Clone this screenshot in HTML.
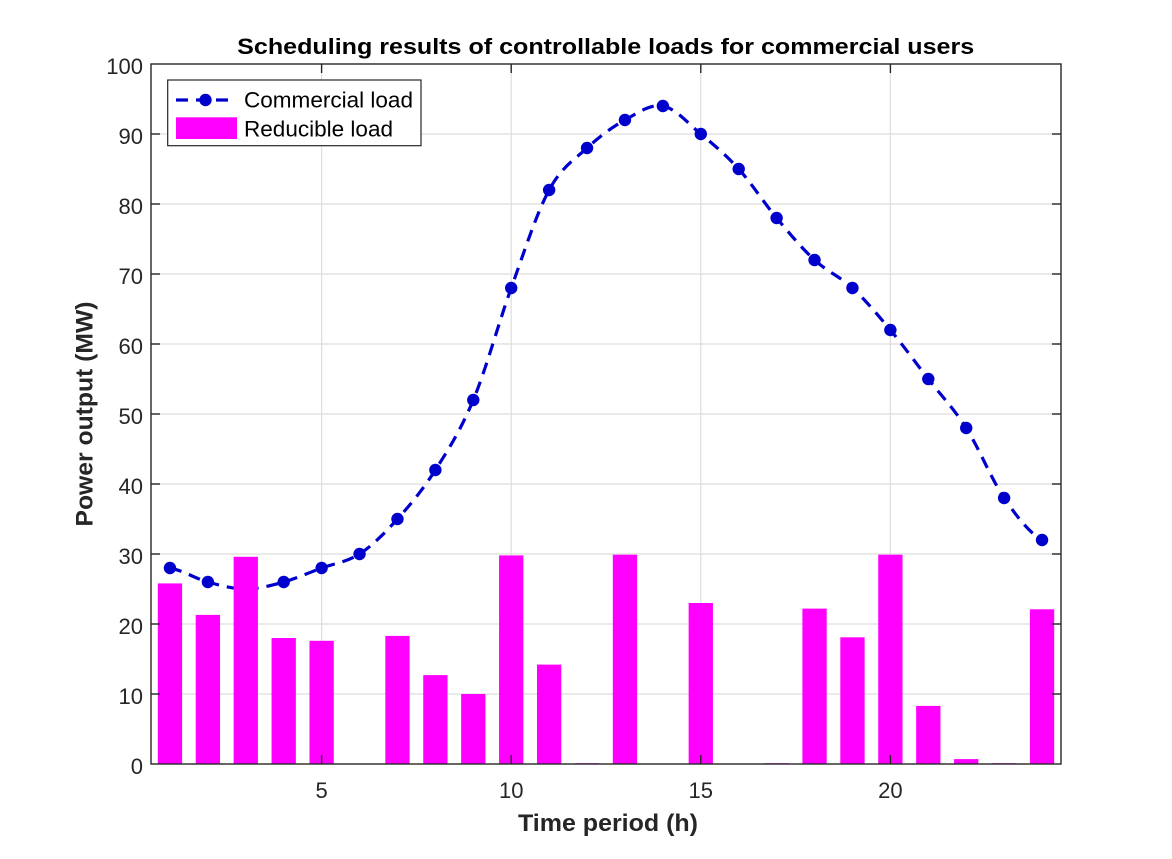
<!DOCTYPE html>
<html>
<head>
<meta charset="utf-8">
<style>
html,body{margin:0;padding:0;background:#fff;}
svg{display:block;}
text{font-family:"Liberation Sans",Arial,sans-serif;fill:#262626;}
</style>
</head>
<body>
<svg width="1172" height="859" viewBox="0 0 1172 859" xmlns="http://www.w3.org/2000/svg">
<rect x="0" y="0" width="1172" height="859" fill="#fff"/>
<rect x="151" y="64" width="910" height="700" fill="#fff"/>
<g stroke="#dedede" stroke-width="1.2">
<line x1="151" y1="134" x2="1061" y2="134"/>
<line x1="151" y1="204" x2="1061" y2="204"/>
<line x1="151" y1="274" x2="1061" y2="274"/>
<line x1="151" y1="344" x2="1061" y2="344"/>
<line x1="151" y1="414" x2="1061" y2="414"/>
<line x1="151" y1="484" x2="1061" y2="484"/>
<line x1="151" y1="554" x2="1061" y2="554"/>
<line x1="151" y1="624" x2="1061" y2="624"/>
<line x1="151" y1="694" x2="1061" y2="694"/>
<line x1="321.6" y1="64" x2="321.6" y2="764"/>
<line x1="511.2" y1="64" x2="511.2" y2="764"/>
<line x1="700.8" y1="64" x2="700.8" y2="764"/>
<line x1="890.4" y1="64" x2="890.4" y2="764"/>
</g>
<path d="M169.96,568 C182.6,570.33 195.24,578.5 207.875,582 C220.52,585.5 233.15,589 245.79,589 C258.43,589 271.07,585.5 283.71,582 C296.35,578.5 308.99,572.67 321.625,568 C334.27,563.33 346.9,562.17 359.54,554 C372.18,545.83 384.82,533 397.46,519 C410.1,505 422.74,489.83 435.375,470 C448.02,450.17 460.65,430.33 473.29,400 C485.93,369.67 498.57,323 511.21,288 C523.85,253 536.49,213.33 549.125,190 C561.77,166.67 574.4,159.67 587.04,148 C599.68,136.33 612.32,127 624.96,120 C637.6,113 650.24,103.67 662.875,106 C675.52,108.33 688.15,123.5 700.79,134 C713.43,144.5 726.07,155 738.71,169 C751.35,183 763.99,202.83 776.625,218 C789.27,233.17 801.9,248.33 814.54,260 C827.18,271.67 839.82,276.33 852.46,288 C865.1,299.67 877.74,314.83 890.375,330 C903.02,345.17 915.65,362.67 928.29,379 C940.93,395.33 953.57,408.17 966.21,428 C978.85,447.83 991.49,479.33 1004.125,498 C1016.77,516.67 1029.4,533 1042.04,540" fill="none" stroke="#0000cd" stroke-width="3.2" stroke-dasharray="12 8"/>
<g fill="#0000cd">
<circle cx="169.96" cy="568" r="6.2"/>
<circle cx="207.875" cy="582" r="6.2"/>
<circle cx="245.79" cy="589" r="6.2"/>
<circle cx="283.71" cy="582" r="6.2"/>
<circle cx="321.625" cy="568" r="6.2"/>
<circle cx="359.54" cy="554" r="6.2"/>
<circle cx="397.46" cy="519" r="6.2"/>
<circle cx="435.375" cy="470" r="6.2"/>
<circle cx="473.29" cy="400" r="6.2"/>
<circle cx="511.21" cy="288" r="6.2"/>
<circle cx="549.125" cy="190" r="6.2"/>
<circle cx="587.04" cy="148" r="6.2"/>
<circle cx="624.96" cy="120" r="6.2"/>
<circle cx="662.875" cy="106" r="6.2"/>
<circle cx="700.79" cy="134" r="6.2"/>
<circle cx="738.71" cy="169" r="6.2"/>
<circle cx="776.625" cy="218" r="6.2"/>
<circle cx="814.54" cy="260" r="6.2"/>
<circle cx="852.46" cy="288" r="6.2"/>
<circle cx="890.375" cy="330" r="6.2"/>
<circle cx="928.29" cy="379" r="6.2"/>
<circle cx="966.21" cy="428" r="6.2"/>
<circle cx="1004.125" cy="498" r="6.2"/>
<circle cx="1042.04" cy="540" r="6.2"/>
</g>
<g fill="#ff00ff">
<rect x="157.81" y="583.4" width="24.3" height="180.6"/>
<rect x="195.73" y="614.9" width="24.3" height="149.1"/>
<rect x="233.64" y="556.8" width="24.3" height="207.2"/>
<rect x="271.56" y="638" width="24.3" height="126"/>
<rect x="309.48" y="640.8" width="24.3" height="123.2"/>
<rect x="385.31" y="635.9" width="24.3" height="128.1"/>
<rect x="423.23" y="675.1" width="24.3" height="88.9"/>
<rect x="461.14" y="694" width="24.3" height="70"/>
<rect x="499.06" y="555.4" width="24.3" height="208.6"/>
<rect x="536.98" y="664.6" width="24.3" height="99.4"/>
<rect x="574.89" y="763.2" width="24.3" height="0.8"/>
<rect x="612.81" y="554.7" width="24.3" height="209.3"/>
<rect x="688.64" y="603" width="24.3" height="161"/>
<rect x="764.48" y="763.2" width="24.3" height="0.8"/>
<rect x="802.39" y="608.6" width="24.3" height="155.4"/>
<rect x="840.31" y="637.3" width="24.3" height="126.7"/>
<rect x="878.23" y="554.7" width="24.3" height="209.3"/>
<rect x="916.14" y="705.9" width="24.3" height="58.1"/>
<rect x="954.06" y="759.1" width="24.3" height="4.9"/>
<rect x="991.98" y="763.2" width="24.3" height="0.8"/>
<rect x="1029.89" y="609.3" width="24.3" height="154.7"/>
</g>
<rect x="151" y="64" width="910" height="700" fill="none" stroke="#262626" stroke-width="1.4"/>
<g stroke="#262626" stroke-width="1.4">
<line x1="151" y1="134" x2="160" y2="134"/><line x1="1061" y1="134" x2="1052" y2="134"/>
<line x1="151" y1="204" x2="160" y2="204"/><line x1="1061" y1="204" x2="1052" y2="204"/>
<line x1="151" y1="274" x2="160" y2="274"/><line x1="1061" y1="274" x2="1052" y2="274"/>
<line x1="151" y1="344" x2="160" y2="344"/><line x1="1061" y1="344" x2="1052" y2="344"/>
<line x1="151" y1="414" x2="160" y2="414"/><line x1="1061" y1="414" x2="1052" y2="414"/>
<line x1="151" y1="484" x2="160" y2="484"/><line x1="1061" y1="484" x2="1052" y2="484"/>
<line x1="151" y1="554" x2="160" y2="554"/><line x1="1061" y1="554" x2="1052" y2="554"/>
<line x1="151" y1="624" x2="160" y2="624"/><line x1="1061" y1="624" x2="1052" y2="624"/>
<line x1="151" y1="694" x2="160" y2="694"/><line x1="1061" y1="694" x2="1052" y2="694"/>
<line x1="321.6" y1="764" x2="321.6" y2="755"/><line x1="321.6" y1="64" x2="321.6" y2="73"/>
<line x1="511.2" y1="764" x2="511.2" y2="755"/><line x1="511.2" y1="64" x2="511.2" y2="73"/>
<line x1="700.8" y1="764" x2="700.8" y2="755"/><line x1="700.8" y1="64" x2="700.8" y2="73"/>
<line x1="890.4" y1="764" x2="890.4" y2="755"/><line x1="890.4" y1="64" x2="890.4" y2="73"/>
</g>
<g font-size="22" text-anchor="end">
<text x="143" y="74">100</text>
<text x="143" y="144">90</text>
<text x="143" y="214">80</text>
<text x="143" y="284">70</text>
<text x="143" y="354">60</text>
<text x="143" y="424">50</text>
<text x="143" y="494">40</text>
<text x="143" y="564">30</text>
<text x="143" y="634">20</text>
<text x="143" y="704">10</text>
<text x="143" y="774">0</text>
</g>
<g font-size="22" text-anchor="middle">
<text x="321.6" y="798">5</text>
<text x="511.2" y="798">10</text>
<text x="700.8" y="798">15</text>
<text x="890.4" y="798">20</text>
</g>
<text x="605.7" y="54" font-size="22.5" font-weight="bold" text-anchor="middle" style="fill:#000" textLength="737" lengthAdjust="spacingAndGlyphs">Scheduling results of controllable loads for commercial users</text>
<text x="608" y="831" font-size="24" font-weight="bold" text-anchor="middle" textLength="180" lengthAdjust="spacingAndGlyphs">Time period (h)</text>
<text transform="translate(92.5,414) rotate(-90)" x="0" y="0" font-size="24" font-weight="bold" text-anchor="middle" textLength="225" lengthAdjust="spacingAndGlyphs">Power output (MW)</text>
<rect x="167.7" y="80" width="253.3" height="65.7" fill="#fff" stroke="#262626" stroke-width="1.2"/>
<line x1="176" y1="100" x2="236" y2="100" stroke="#0000cd" stroke-width="3.2" stroke-dasharray="12 8"/>
<circle cx="205.5" cy="100" r="6.2" fill="#0000cd"/>
<rect x="176" y="117.3" width="61" height="21.7" fill="#ff00ff"/>
<text x="244" y="107.5" font-size="22" style="fill:#000" textLength="169" lengthAdjust="spacingAndGlyphs">Commercial load</text>
<text x="244" y="136.5" font-size="22" style="fill:#000" textLength="149" lengthAdjust="spacingAndGlyphs">Reducible load</text>
</svg>
</body>
</html>
